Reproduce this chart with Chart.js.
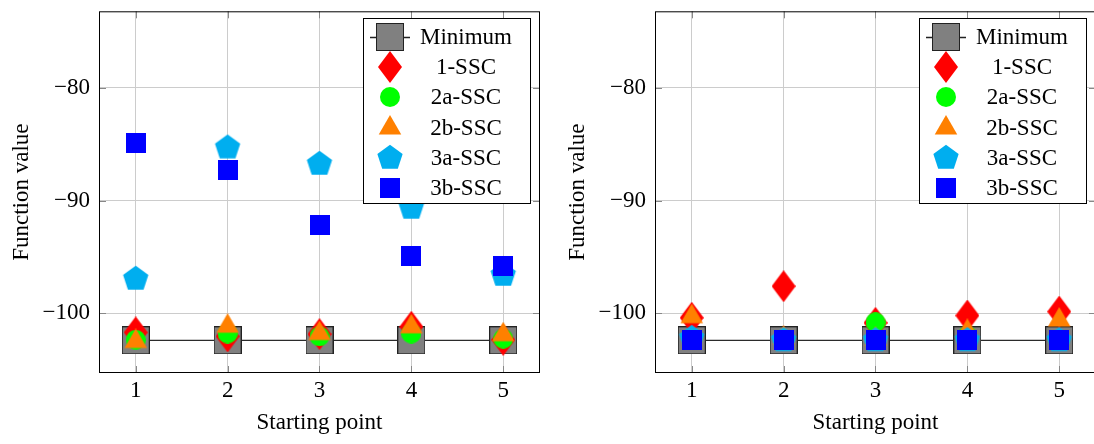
<!DOCTYPE html>
<html lang="en">
<head>
  <meta charset="UTF-8" />
  <title>Function value per starting point</title>
  <script src="https://cdn.jsdelivr.net/npm/chart.js"></script>
  <style>
    html, body { margin: 0; padding: 0; background: #fff; overflow: hidden; }
    .wrap { position: relative; width: 1094px; height: 444px; overflow: hidden; }
    .panel { position: absolute; top: 0; width: 556px; height: 444px; }
    #left { left: 0; }
    #right { left: 556px; }
  </style>
</head>
<body>
  <div class="wrap">
    <div class="panel" id="left"><canvas id="chartLeft" width="556" height="444"></canvas></div>
    <div class="panel" id="right"><canvas id="chartRight" width="556" height="444"></canvas></div>
  </div>

  <script>
    // data
    const startPoints = [1, 2, 3, 4, 5];
    const seriesNames = ['Minimum', '1-SSC', '2a-SSC', '2b-SSC', '3a-SSC', '3b-SSC'];
    const xTicks = [1, 2, 3, 4, 5];
    const yTicks = [-100, -90, -80];

    // left panel
    const minLeft = [-102.4, -102.4, -102.4, -102.4, -102.4];
    const ssc1Left = [-101.7, -102.05, -101.85, -101.2, -102.35];
    const ssc2aLeft = [-102.35, -101.8, -102.05, -101.8, -102.25];
    const ssc2bLeft = [-102.5, -101.15, -101.8, -101.2, -101.9];
    const ssc3aLeft = [-96.95, -85.3, -86.75, -90.65, -96.6];
    const ssc3bLeft = [-84.85, -87.25, -92.2, -94.9, -95.8];

    // right panel
    const minRight = [-102.4, -102.4, -102.4, -102.4, -102.4];
    const ssc1Right = [-100.4, -97.6, -100.85, -100.2, -99.85];
    const ssc2aRight = [-102.3, -102.4, -100.8, -102.0, -102.4];
    const ssc2bRight = [-100.3, -102.2, -102.3, -101.6, -100.6];
    const ssc3aRight = [-102.2, -102.4, -102.4, -102.4, -102.4];
    const ssc3bRight = [-102.4, -102.4, -102.4, -102.4, -102.4];

    const FONT = '"Liberation Serif", "Times New Roman", serif';

    // little canvases used as point styles (pgfplots-like marks)
    function marker(kind) {
      const c = document.createElement('canvas');
      let ctx;
      if (kind === 'minimum') {
        c.width = 28; c.height = 28;
        ctx = c.getContext('2d');
        ctx.fillStyle = '#808080';
        ctx.fillRect(0, 0, 28, 28);
        ctx.strokeStyle = '#222';
        ctx.lineWidth = 1;
        ctx.strokeRect(0.5, 0.5, 27, 27);
      } else if (kind === 'diamond') {
        c.width = 24; c.height = 32;
        ctx = c.getContext('2d');
        ctx.fillStyle = '#ff0000';
        ctx.beginPath();
        ctx.moveTo(12, 0); ctx.lineTo(24, 16); ctx.lineTo(12, 32); ctx.lineTo(0, 16);
        ctx.closePath(); ctx.fill();
      } else if (kind === 'circle') {
        c.width = 20; c.height = 20;
        ctx = c.getContext('2d');
        ctx.fillStyle = '#00ff00';
        ctx.beginPath(); ctx.arc(10, 10, 10, 0, Math.PI * 2); ctx.fill();
      } else if (kind === 'triangle') {
        const R = 13;
        c.width = 26; c.height = 26;
        ctx = c.getContext('2d');
        ctx.fillStyle = '#ff8000';
        ctx.beginPath();
        for (let k = 0; k < 3; k++) {
          const a = -Math.PI / 2 + k * 2 * Math.PI / 3;
          ctx.lineTo(13 + R * Math.cos(a), 13 + R * Math.sin(a));
        }
        ctx.closePath(); ctx.fill();
      } else if (kind === 'pentagon') {
        const R = 13.3;
        c.width = 28; c.height = 28;
        ctx = c.getContext('2d');
        ctx.fillStyle = '#00aeef';
        ctx.beginPath();
        for (let k = 0; k < 5; k++) {
          const a = -Math.PI / 2 + k * 2 * Math.PI / 5;
          ctx.lineTo(14 + R * Math.cos(a), 14 + R * Math.sin(a));
        }
        ctx.closePath(); ctx.fill();
      } else {
        c.width = 20; c.height = 20;
        ctx = c.getContext('2d');
        ctx.fillStyle = '#0000ff';
        ctx.fillRect(0, 0, 20, 20);
      }
      return c;
    }

    const markers = ['minimum', 'diamond', 'circle', 'triangle', 'pentagon', 'square'].map(marker);

    function fmt(v) {
      return v < 0 ? '\u2212' + Math.abs(v) : String(v);
    }

    // black frame + inner tick marks
    const frame = {
      id: 'frame',
      afterDraw(chart) {
        const {ctx, chartArea: a, scales} = chart;
        ctx.save();
        ctx.strokeStyle = '#888';
        ctx.lineWidth = 1;
        ctx.beginPath();
        xTicks.forEach(v => {
          const px = Math.round(scales.x.getPixelForValue(v)) + 0.5;
          ctx.moveTo(px, a.bottom); ctx.lineTo(px, a.bottom - 7);
          ctx.moveTo(px, a.top); ctx.lineTo(px, a.top + 7);
        });
        yTicks.forEach(v => {
          const py = Math.round(scales.y.getPixelForValue(v)) + 0.5;
          ctx.moveTo(a.left, py); ctx.lineTo(a.left + 7, py);
          ctx.moveTo(a.right, py); ctx.lineTo(a.right - 7, py);
        });
        ctx.stroke();
        ctx.strokeStyle = '#000';
        ctx.strokeRect(a.left + 0.5, a.top + 0.5, a.right - a.left - 1, a.bottom - a.top - 1);
        ctx.restore();
      }
    };

    // legend box in the upper right corner of the plot
    const boxLegend = {
      id: 'boxLegend',
      afterDraw(chart) {
        const {ctx, chartArea: a} = chart;
        const w = 167, h = 185;
        const x0 = Math.round(a.right - 10 - w), y0 = Math.round(a.top + 7);
        ctx.save();
        ctx.fillStyle = '#fff';
        ctx.fillRect(x0, y0, w, h);
        ctx.strokeStyle = '#000';
        ctx.lineWidth = 1;
        ctx.strokeRect(x0 + 0.5, y0 + 0.5, w, h);
        ctx.font = '23px ' + FONT;
        ctx.textAlign = 'center';
        ctx.textBaseline = 'middle';
        seriesNames.forEach((name, i) => {
          const cy = Math.round(y0 + 19 + i * 30.2);
          const img = markers[i];
          if (i === 0) {
            ctx.strokeStyle = '#222';
            ctx.lineWidth = 1.3;
            ctx.beginPath();
            ctx.moveTo(x0 + 7, cy + 0.5); ctx.lineTo(x0 + 47, cy + 0.5);
            ctx.stroke();
          }
          ctx.drawImage(img, x0 + 27 - img.width / 2, cy - img.height / 2);
          ctx.fillStyle = '#000';
          ctx.fillText(name, x0 + 103, cy + 1);
        });
        ctx.restore();
      }
    };

    function makeChart(id, series) {
      const datasets = series.map((vals, i) => ({
        label: seriesNames[i],
        data: startPoints.map((x, j) => ({ x: x, y: vals[j] })),
        pointStyle: markers[i],
        pointRadius: 10,
        pointHoverRadius: 10,
        showLine: i === 0,
        borderColor: '#2b2b2b',
        borderWidth: 1.3,
        order: series.length - i
      }));

      return new Chart(document.getElementById(id), {
        type: 'scatter',
        data: { datasets },
        options: {
          responsive: false,
          animation: false,
          layout: { padding: { top: 8, right: 16, left: 0, bottom: 0 } },
          plugins: {
            legend: { display: false },
            tooltip: { enabled: false }
          },
          scales: {
            x: {
              type: 'linear',
              min: 0.6,
              max: 5.4,
              afterBuildTicks: s => { s.ticks = xTicks.map(v => ({ value: v })); },
              afterFit: s => { s.height = 71; s.paddingLeft = 0; s.paddingRight = 0; },
              grid: { color: '#cccccc', drawTicks: false },
              border: { display: false },
              ticks: { padding: 4, color: '#000', font: { family: FONT, size: 23 }, callback: v => fmt(v) },
              title: { display: true, text: 'Starting point', color: '#000', font: { family: FONT, size: 23 }, padding: { top: 0, bottom: 7 } }
            },
            y: {
              type: 'linear',
              min: -105.3,
              max: -73.2,
              afterBuildTicks: s => { s.ticks = yTicks.map(v => ({ value: v })); },
              afterFit: s => { s.width = 99; s.paddingTop = 0; s.paddingBottom = 0; },
              grid: { color: '#cccccc', drawTicks: false },
              border: { display: false },
              ticks: { padding: 9, color: '#000', font: { family: FONT, size: 23 }, callback: v => fmt(v) },
              title: { display: true, text: 'Function value', color: '#000', font: { family: FONT, size: 23 }, padding: { top: 8, bottom: 0 } }
            }
          }
        },
        plugins: [frame, boxLegend]
      });
    }

    makeChart('chartLeft', [minLeft, ssc1Left, ssc2aLeft, ssc2bLeft, ssc3aLeft, ssc3bLeft]);
    makeChart('chartRight', [minRight, ssc1Right, ssc2aRight, ssc2bRight, ssc3aRight, ssc3bRight]);
  </script>
</body>
</html>
